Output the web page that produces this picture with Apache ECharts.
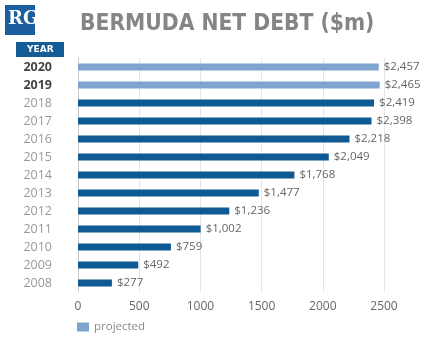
<!DOCTYPE html>
<html><head><meta charset="utf-8">
<script src="https://cdn.jsdelivr.net/npm/echarts@6/dist/echarts.min.js"></script>
<style>html,body{margin:0;padding:0;background:#fff}#c{width:430px;height:350px}</style>
</head><body><div id="c"></div>
<script>
var years = ['2008','2009','2010','2011','2012','2013','2014','2015','2016','2017','2018','2019','2020'];
var debt = [277, 492, 759, 1002, 1236, 1477, 1768, 2049, 2218, 2398, 2419, 2465, 2457];
var projectedYears = ['2019','2020'];
var xTicks = [0, 500, 1000, 1500, 2000, 2500];

var actualData = years.map(function(y,i){ return projectedYears.indexOf(y) >= 0 ? null : debt[i]; });
var projData = years.map(function(y,i){ return projectedYears.indexOf(y) >= 0 ? debt[i] : null; });

function fmt(v){ return '$' + v.toLocaleString('en-US'); }

var chart = echarts.init(document.getElementById('c'));
var labelCfg = { show: true, position: 'right', distance: 5, color: '#666', fontSize: 11.5, fontFamily: 'Open Sans',
  formatter: function(p){ return p.value == null ? '' : fmt(p.value); } };
chart.setOption({
  animation: false,
  title: { text: 'BERMUDA NET DEBT ($m)', left: 80, top: 13, padding: 0,
    textStyle: { fontFamily: 'DejaVu Sans Condensed', fontWeight: 'bold', fontSize: 22.6, color: '#858585' } },
  legend: { data: ['projected'], left: 72, top: 316, itemWidth: 12, itemHeight: 9, icon: 'rect',
    textStyle: { color: '#888', fontSize: 11.5, fontFamily: 'Open Sans' } },
  grid: { left: 78, right: 46, top: 58, bottom: 58 },
  xAxis: { type: 'value', min: 0, max: 2500, interval: 500,
    axisLine: { show: false }, axisTick: { show: false },
    splitLine: { lineStyle: { color: '#e6e6e6' } },
    axisLabel: { color: '#666', fontSize: 12, fontFamily: 'Open Sans', margin: 9,
      formatter: function(v){ return String(v); } } },
  yAxis: { type: 'category', data: years,
    axisLine: { show: true, lineStyle: { color: '#ccc' } }, axisTick: { show: false },
    axisLabel: { margin: 26, fontSize: 12.5, fontFamily: 'Open Sans',
      formatter: function(v){ return projectedYears.indexOf(v) >= 0 ? '{b|' + v + '}' : '{n|' + v + '}'; },
      rich: { b: { color: '#444', fontWeight: 'bold', fontSize: 12.5, fontFamily: 'Open Sans' },
              n: { color: '#999', fontSize: 12.5, fontFamily: 'Open Sans' } } } },
  series: [
    { name: 'actual', type: 'bar', data: actualData, barWidth: 7, barGap: '-100%',
      itemStyle: { color: '#0f5a92' }, label: labelCfg },
    { name: 'projected', type: 'bar', data: projData, barWidth: 7, barGap: '-100%',
      itemStyle: { color: '#7fa4cf' }, label: labelCfg }
  ],
  graphic: [
    { type: 'rect', left: 5, top: 5, shape: { width: 30, height: 30 }, style: { fill: '#1b5f9e' } },
    { type: 'text', left: 8, top: 10, style: { text: 'RG', fill: '#fff', font: 'bold 18px "DejaVu Serif"' } },
    { type: 'rect', left: 16, top: 42, shape: { width: 48, height: 15 }, style: { fill: '#145c96' } },
    { type: 'text', left: 27, top: 45, style: { text: 'YEAR', fill: '#fff', font: 'bold 9px "DejaVu Sans"' } }
  ]
});
</script></body></html>
